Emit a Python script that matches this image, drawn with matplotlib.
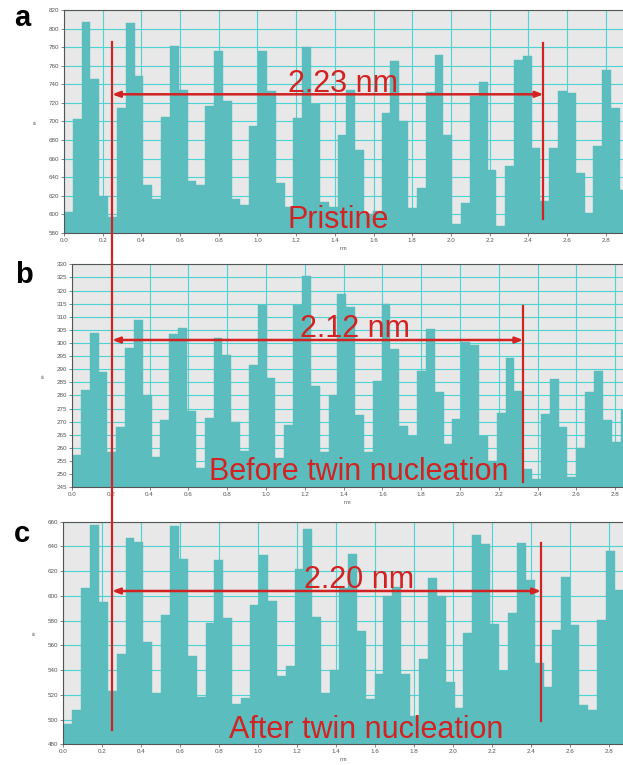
import matplotlib
matplotlib.use("Agg")
import matplotlib.pyplot as plt
from matplotlib.lines import Line2D
from matplotlib.transforms import blended_transform_factory
import numpy as np

plt.rcParams['font.family'] = ['Liberation Sans', 'DejaVu Sans']

# ---- data: line-profile intensity (e-) per bin along the profile (nm) ----
bin_width = 0.0456  # nm

pristine = [603, 703, 807, 746, 620, 597, 714, 806, 749, 632, 617, 705, 781, 734, 636, 632,
            717, 776, 722, 617, 610, 695, 776, 733, 634, 608, 704, 780, 719, 613, 608, 685,
            734, 669, 600, 604, 709, 765, 701, 607, 628, 732, 772, 686, 590, 612, 727, 743,
            648, 588, 652, 766, 770, 672, 614, 672, 733, 731, 645, 602, 674, 755, 714, 626]

before_twin = [257.5, 282.2, 304.0, 289.0, 258.6, 267.9, 298.2, 308.7, 280.2, 256.4, 270.8,
               303.4, 305.7, 274.1, 252.2, 271.4, 301.8, 295.3, 269.9, 258.7, 291.6, 314.5,
               286.7, 256.0, 268.8, 314.4, 325.4, 283.6, 258.6, 280.0, 318.6, 313.9, 272.4,
               258.6, 285.5, 314.8, 297.7, 268.4, 264.6, 289.2, 305.4, 281.3, 261.6, 270.9,
               300.5, 299.3, 264.6, 255.0, 273.5, 294.4, 281.6, 251.9, 248.3, 272.8, 286.3,
               267.9, 249.0, 259.9, 281.5, 289.2, 270.7, 262.4, 274.5]

after_twin = [496.7, 507.8, 606.6, 657.3, 595.3, 522.8, 553.0, 646.8, 643.3, 562.5, 521.8,
              584.5, 656.8, 629.8, 551.7, 518.5, 577.8, 628.7, 582.4, 512.3, 517.7, 592.6,
              633.0, 595.9, 535.0, 543.6, 621.5, 654.1, 583.2, 521.8, 540.0, 606.4, 633.6,
              571.6, 516.4, 536.9, 599.9, 606.9, 536.9, 503.2, 549.0, 614.7, 599.9, 530.7,
              509.1, 570.3, 649.2, 641.7, 577.3, 539.3, 585.9, 642.5, 612.8, 545.5, 526.0,
              572.5, 615.0, 576.7, 511.8, 507.8, 580.2, 636.3, 605.0, 532.5]

panel_letters = ["a", "b", "c"]
distances = [2.23, 2.12, 2.20]          # nm, periodicity measured in each profile
state_labels = ["Pristine", "Before twin nucleation", "After twin nucleation"]
y_ranges = [(580, 820), (245, 330), (480, 660)]
y_steps = [20, 5, 20]
x_ticks = [round(0.2 * i, 1) for i in range(15)]

# ---- styling ----
W, H = 623, 765
BAR = "#5bbdbe"
BG = "#e8e8e8"
GRID = "#4dd3d3"
RED = "#d22222"

fig = plt.figure(figsize=(W / 100, H / 100), dpi=100)


def fx(px):
    return px / W


def fy(py):
    return 1 - py / H


# axes boxes in pixels: left, top, bottom, x-span (nm) shown
boxes = [(64, 10, 233, 2.889), (72, 264.3, 487.3, 2.840), (63.3, 521.7, 744.3, 2.870)]
series = [pristine, before_twin, after_twin]

axes = []
for (left, top, bottom, xmax), vals, (y0, y1), ys in zip(boxes, series, y_ranges, y_steps):
    ax = fig.add_axes([fx(left), fy(bottom), fx(W - left), (bottom - top) / H])
    ax.set_facecolor(BG)
    ax.set_axisbelow(True)
    edges = np.arange(len(vals)) * bin_width
    ax.bar(edges, np.array(vals) - y0, bottom=y0, width=bin_width, align="edge",
           color=BAR, edgecolor=BAR, linewidth=0.3)
    ax.set_xlim(0, xmax)
    ax.set_ylim(y0, y1)
    ax.set_xticks(x_ticks)
    ax.set_xticklabels([f"{t:.1f}" for t in x_ticks])
    ax.set_yticks(np.arange(y0, y1 + 0.01, ys))
    ax.grid(True, color=GRID, linewidth=0.8)
    ax.tick_params(labelsize=4.5, length=2, width=0.5, colors="#555555", pad=1.5)
    for side in ("left", "bottom", "top"):
        ax.spines[side].set_color("#555555")
        ax.spines[side].set_linewidth(0.8)
    ax.spines["right"].set_visible(False)
    ax.set_ylabel("e-", fontsize=4, color="#555555", labelpad=8)
    ax.set_xlabel("nm", fontsize=4, color="#555555", labelpad=2)
    axes.append(ax)

# shared reference line running through all three profiles
line_x_px = 112
start_a = axes[0].transData.inverted().transform((line_x_px, 0))[0]
trans_long = blended_transform_factory(axes[0].transData, fig.transFigure)
fig.add_artist(Line2D([start_a, start_a], [fy(42), fy(730)], transform=trans_long,
                      color=RED, linewidth=1.6))

arrow_y_px = [94.3, 340, 591]
end_line_px = [(42.7, 219.3), (306, 481.7), (543, 720.7)]
dist_text = [(288, 92), (300, 337.3), (304, 588.3)]
state_text = [(287, 228.3), (209, 480), (229, 737.7)]
letter_pos = [(14, 26), (15, 283.3), (14, 541.7)]

for i, ax in enumerate(axes):
    start = ax.transData.inverted().transform((line_x_px, 0))[0]
    end = start + distances[i]
    ya = ax.transData.inverted().transform(
        fig.transFigure.transform((0, fy(arrow_y_px[i]))))[1]
    ax.annotate("", xy=(end, ya), xytext=(start, ya),
                arrowprops=dict(arrowstyle="<|-|>,head_length=0.45,head_width=0.17",
                                color=RED, lw=1.8, shrinkA=0, shrinkB=0),
                annotation_clip=False)
    tr = blended_transform_factory(ax.transData, fig.transFigure)
    t0, t1 = end_line_px[i]
    fig.add_artist(Line2D([end, end], [fy(t0), fy(t1)], transform=tr,
                          color=RED, linewidth=1.6))
    fig.text(fx(dist_text[i][0]), fy(dist_text[i][1]), f"{distances[i]:.2f} nm",
             fontsize=22, color=RED, ha="left", va="baseline")
    fig.text(fx(state_text[i][0]), fy(state_text[i][1]), state_labels[i],
             fontsize=22, color=RED, ha="left", va="baseline")
    fig.text(fx(letter_pos[i][0]), fy(letter_pos[i][1]), panel_letters[i],
             fontsize=21, fontweight="bold", color="black", ha="left", va="baseline")

fig.savefig("out.png", dpi=100, facecolor="white")
